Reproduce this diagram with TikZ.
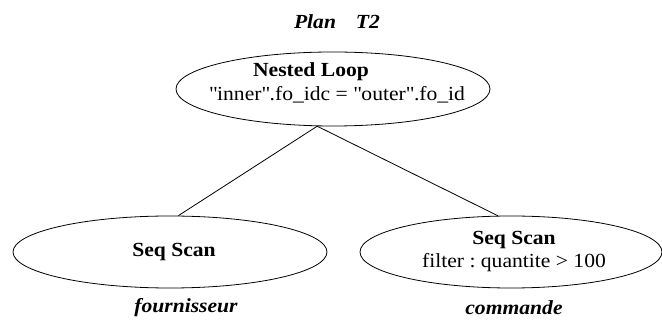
\documentclass[tikz,border=0pt]{standalone}
\usepackage{fontspec}
\usetikzlibrary{shapes.geometric}
\setmainfont{Liberation Serif}[FakeStretch=1.08]
\begin{document}
\frenchspacing
\begin{tikzpicture}[x=1pt,y=-1pt,
  op/.style={draw, ellipse, line width=0.8pt, inner sep=0pt},
  optext/.style={align=center, font=\fontsize{20}{23}\selectfont},
  tbl/.style={font=\fontsize{20}{23}\selectfont\bfseries\itshape},
  link/.style={draw, line width=0.8pt}]
\useasboundingbox (0,0) rectangle (662,320);
% operator ellipses
\node[op, minimum width=314pt, minimum height=74pt] (loop) at (333,89) {};
\node[op, minimum width=314pt, minimum height=72pt] (scanf) at (170,252) {};
\node[op, minimum width=302pt, minimum height=72pt] (scanc) at (511,252) {};
% labels inside operators
\node[optext] (loopname) at (311,72) {\textbf{Nested Loop}};
\node[optext] (loopcond) at (337,95) {\textquotedbl inner\textquotedbl.fo\_idc = \textquotedbl outer\textquotedbl.fo\_id};
\node[optext] (scanft) at (174,252) {\textbf{Seq Scan}};
\node[optext] (scanct) at (514,252) {\textbf{Seq Scan}\\filter : quantite > 100};
% title and relation names
\node[tbl] (title) at (337,22) {Plan\hspace{1em}T2};
\node[tbl] (fourn) at (186,308) {fournisseur};
\node[tbl] (comm) at (514,308) {commande};
% plan edges
\draw[link] (loop.-113) -- (scanf.77);
\draw[link] (loop.-113) -- (scanc.110);
\end{tikzpicture}
\end{document}
